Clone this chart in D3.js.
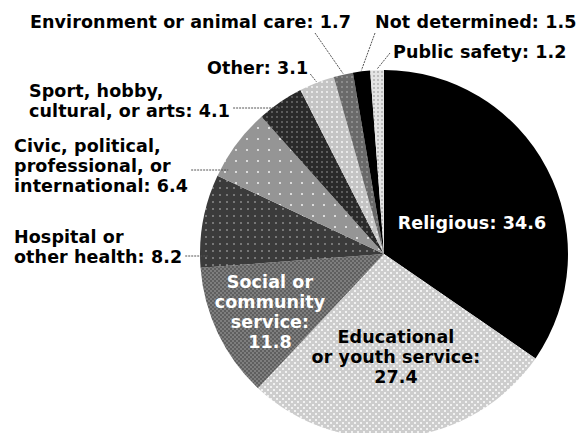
<!DOCTYPE html>
<html>
<head>
<meta charset="utf-8">
<script src="https://cdn.jsdelivr.net/npm/d3@7"></script>
<style>
  html, body { margin: 0; padding: 0; background: #fff; }
  svg { display: block; }
  .lbl { font-family: "DejaVu Sans", sans-serif; font-weight: 700; font-size: 17.5px; letter-spacing: 0.1px; }
  .leader { stroke: #555; stroke-width: 1; stroke-dasharray: 2,1; fill: none; }
</style>
</head>
<body>
<svg id="chart" width="578" height="433"></svg>
<script>
"use strict";
// volunteer activity share, percent
var categories = [
  "Religious", "Educational or youth service", "Social or community service",
  "Hospital or other health", "Civic, political, professional, or international",
  "Sport, hobby, cultural, or arts", "Other", "Environment or animal care",
  "Not determined", "Public safety"
];
var values = [ 34.6, 27.4, 11.8, 8.2, 6.4, 4.1, 3.1, 1.7, 1.5, 1.2 ];
var valueLabels = [ "34.6", "27.4", "11.8", "8.2", "6.4", "4.1", "3.1", "1.7", "1.5", "1.2" ];

var W = 578, H = 433;
var cx = 384, cy = 254, r = 184;

var svg = d3.select( "#chart" );
var defs = svg.append( "defs" );

// fill patterns, one per slice
function dotPattern( id, size, bg, dot, spots ) {
  var p = defs.append( "pattern" )
    .attr( "id", id )
    .attr( "patternUnits", "userSpaceOnUse" )
    .attr( "width", size )
    .attr( "height", size );
  p.append( "rect" ).attr( "width", size ).attr( "height", size ).attr( "fill", bg );
  spots.forEach( function( s ) {
    p.append( "rect" ).attr( "x", s[0] ).attr( "y", s[1] )
      .attr( "width", s[2] ).attr( "height", s[2] ).attr( "fill", dot );
  } );
  return "url(#" + id + ")";
}

var fills = [
  "#000",
  dotPattern( "pEdu", 6, "#cdcdcd", "#f2f2f2", [ [ 0, 0, 2 ], [ 3, 3, 2 ] ] ),
  dotPattern( "pSoc", 4, "#7e7e7e", "#5f5f5f", [ [ 0, 0, 2 ], [ 2, 2, 2 ] ] ),
  dotPattern( "pHos", 7, "#3b3b3b", "#777", [ [ 3, 3, 2 ] ] ),
  dotPattern( "pCiv", 11, "#959595", "#dcdcdc", [ [ 5, 5, 2 ] ] ),
  dotPattern( "pSpo", 5, "#2a2a2a", "#5c5c5c", [ [ 2, 2, 2 ] ] ),
  dotPattern( "pOth", 5, "#c4c4c4", "#e8e8e8", [ [ 2, 2, 2 ] ] ),
  dotPattern( "pEnv", 5, "#6a6a6a", "#8c8c8c", [ [ 2, 2, 2 ] ] ),
  "#000",
  dotPattern( "pPub", 4, "#e4e4e4", "#bcbcbc", [ [ 1, 1, 2 ] ] )
];

var pie = d3.pie().sort( null ).value( function( d ) { return d; } );
var arcs = pie( values );
var arc = d3.arc().innerRadius( 0 ).outerRadius( r );

var g = svg.append( "g" ).attr( "transform", "translate(" + cx + "," + cy + ")" );
g.selectAll( "path.slice" )
  .data( arcs )
  .enter()
  .append( "path" )
  .attr( "class", "slice" )
  .attr( "d", arc )
  .attr( "fill", function( d, i ) { return fills[i]; } );

// label layout: lines, anchor, text position, leader type
var layout = [
  { lines: [ "Religious: " + valueLabels[0] ], x: 472, y: 229, anchor: "middle", color: "#fff" },
  { lines: [ "Educational", "or youth service:", valueLabels[1] ], x: 396, y: 343, anchor: "middle", color: "#000" },
  { lines: [ "Social or", "community", "service:", valueLabels[2] ], x: 270, y: 288, anchor: "middle", color: "#fff" },
  { lines: [ "Hospital or", "other health: " + valueLabels[3] ], x: 14, y: 243, anchor: "start", color: "#000", leader: "h", ly: 256 },
  { lines: [ "Civic, political,", "professional, or", "international: " + valueLabels[4] ], x: 14, y: 152, anchor: "start", color: "#000", leader: "h", ly: 170 },
  { lines: [ "Sport, hobby,", "cultural, or arts: " + valueLabels[5] ], x: 29, y: 97, anchor: "start", color: "#000", leader: "h", ly: 108 },
  { lines: [ categories[6] + ": " + valueLabels[6] ], x: 207, y: 74, anchor: "start", color: "#000", leader: "e", ly: 74 },
  { lines: [ categories[7] + ": " + valueLabels[7] ], x: 30, y: 28, anchor: "start", color: "#000", leader: "a", lx: 315, ly: 33 },
  { lines: [ categories[8] + ": " + valueLabels[8] ], x: 375, y: 28, anchor: "start", color: "#000", leader: "a", lx: 375, ly: 33 },
  { lines: [ categories[9] + ": " + valueLabels[9] ], x: 393, y: 58, anchor: "start", color: "#000", leader: "a", lx: 390, ly: 53 }
];

var lineH = 20;

function edgePoint( i ) {
  var mid = ( arcs[i].startAngle + arcs[i].endAngle ) / 2;
  return [ cx + Math.sin( mid ) * ( r + 1 ), cy - Math.cos( mid ) * ( r + 1 ) ];
}

layout.forEach( function( l, i ) {
  var t = svg.append( "text" )
    .attr( "class", "lbl" )
    .attr( "text-anchor", l.anchor )
    .attr( "fill", l.color );
  l.lines.forEach( function( s, k ) {
    t.append( "tspan" ).attr( "x", l.x ).attr( "y", l.y + k * lineH ).text( s );
  } );
  var box = t.node().getBBox();
  if ( l.leader === "h" ) {
    var dy = l.ly - cy;
    var ex = cx - Math.sqrt( r * r - dy * dy ) + 8;
    svg.append( "line" ).attr( "class", "leader" )
      .attr( "x1", box.x + box.width + 3 ).attr( "y1", l.ly )
      .attr( "x2", ex ).attr( "y2", l.ly );
  } else if ( l.leader === "a" || l.leader === "e" ) {
    var p = edgePoint( i );
    var sx = l.leader === "e" ? box.x + box.width + 2 : l.lx;
    svg.append( "line" ).attr( "class", "leader" )
      .attr( "x1", sx ).attr( "y1", l.ly )
      .attr( "x2", p[0] ).attr( "y2", p[1] );
  }
} );
</script>
</body>
</html>
